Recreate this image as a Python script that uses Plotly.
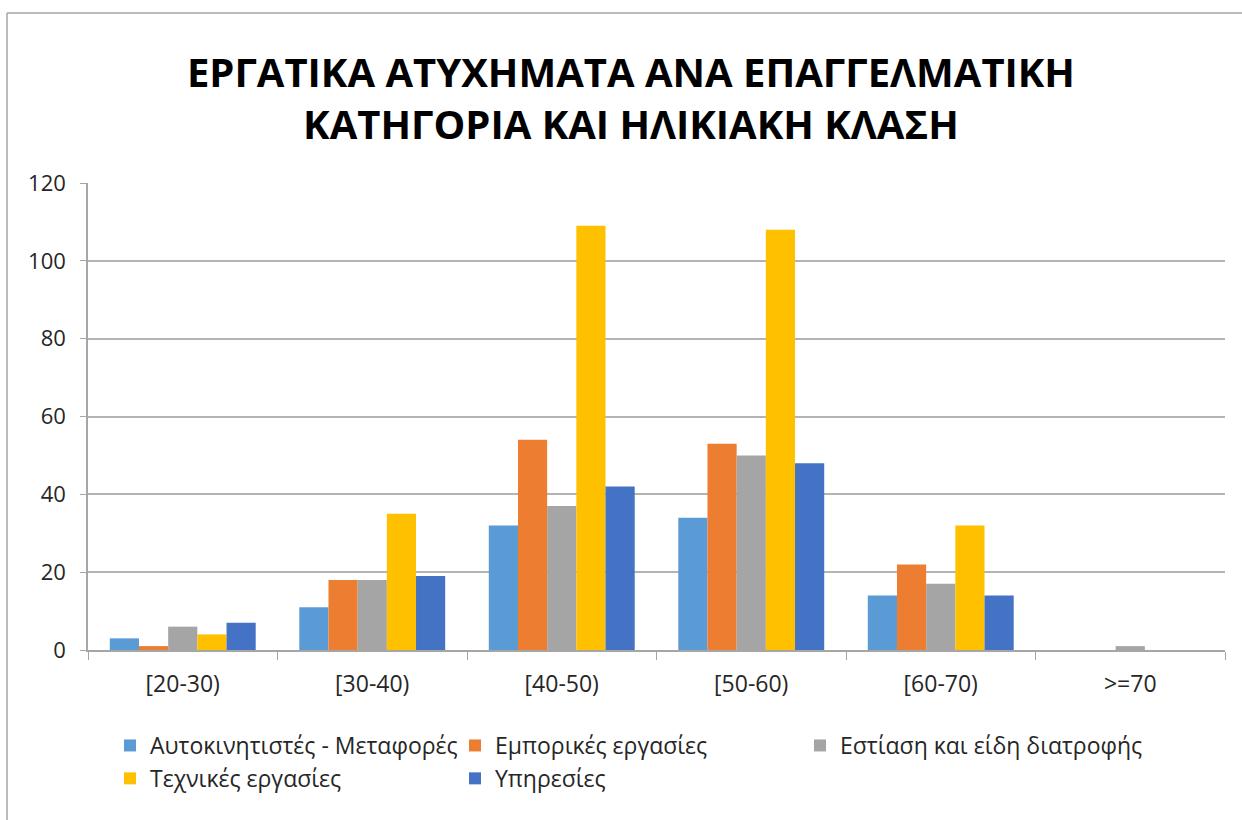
import plotly.graph_objects as go

categories = ["[20-30)", "[30-40)", "[40-50)", "[50-60)", "[60-70)", ">=70"]
series_names = ["Αυτοκινητιστές - Μεταφορές", "Εμπορικές εργασίες", "Εστίαση και είδη διατροφής",
                "Τεχνικές εργασίες", "Υπηρεσίες"]
transport = [3, 11, 32, 34, 14, 0]
commerce = [1, 18, 54, 53, 22, 0]
food = [6, 18, 37, 50, 17, 1]
technical = [4, 35, 109, 108, 32, 0]
services = [7, 19, 42, 48, 14, 0]
colors = ["#5B9BD5", "#ED7D31", "#A5A5A5", "#FFC000", "#4472C4"]
y_ticks = [0, 20, 40, 60, 80, 100, 120]

W, H = 1242, 820
L, R, T, B = 88, 17, 183, 170

fig = go.Figure()
for name, vals, col in zip(series_names, [transport, commerce, food, technical, services], colors):
    fig.add_trace(go.Bar(x=categories, y=vals, name=name, marker=dict(color=col, line=dict(width=0))))

pw, ph = W - L - R, H - T - B
def px(x):
    return (x - L) / pw
def py(y):
    return (H - B - y) / ph

FONT = "Open Sans, Liberation Sans, sans-serif"
fig.update_layout(
    width=W, height=H,
    margin=dict(l=L, r=R, t=T, b=B, autoexpand=False),
    paper_bgcolor="white", plot_bgcolor="white",
    font=dict(family=FONT, size=22, color="#262626"),
    title=dict(text="<b>ΕΡΓΑΤΙΚΑ ΑΤΥΧΗΜΑΤΑ ΑΝΑ ΕΠΑΓΓΕΛΜΑΤΙΚΗ<br>ΚΑΤΗΓΟΡΙΑ ΚΑΙ ΗΛΙΚΙΑΚΗ ΚΛΑΣΗ</b>",
               x=0.508, xanchor="center", y=1 - 87 / H, yanchor="middle",
               font=dict(size=40, color="#000000", family=FONT)),
    barmode="group", bargap=0.23, bargroupgap=0,
    showlegend=True,
    legend=dict(orientation="h", x=px(110), xanchor="left", y=py(724), yanchor="top",
                entrywidth=300, font=dict(size=23, color="#262626"),
                itemwidth=30, traceorder="normal"),
    xaxis=dict(showline=True, linecolor="#A6A6A6", linewidth=1.5, ticks="outside", tickson="boundaries",
               ticklen=8, tickcolor="#A6A6A6", tickfont=dict(size=23), showgrid=False,
               ticklabelstandoff=13),
    yaxis=dict(range=[0, 120], tickvals=y_ticks, showline=True, linecolor="#A6A6A6", linewidth=1.5,
               ticks="outside", ticklen=6, tickcolor="#A6A6A6", gridcolor="#B4B4B4", gridwidth=1.5,
               tickfont=dict(size=22), zeroline=False, ticklabelstandoff=10),
    shapes=[
        dict(type="line", xref="paper", yref="paper", x0=px(7), x1=px(W + 5), y0=py(13), y1=py(13),
             line=dict(color="#A6A6A6", width=1.5)),
        dict(type="line", xref="paper", yref="paper", x0=px(7), x1=px(7), y0=py(13), y1=py(H + 5),
             line=dict(color="#A6A6A6", width=1.5)),
    ],
)

fig.write_html("out.html", config={"displayModeBar": False},
               post_script="document.body.style.margin='0';")
